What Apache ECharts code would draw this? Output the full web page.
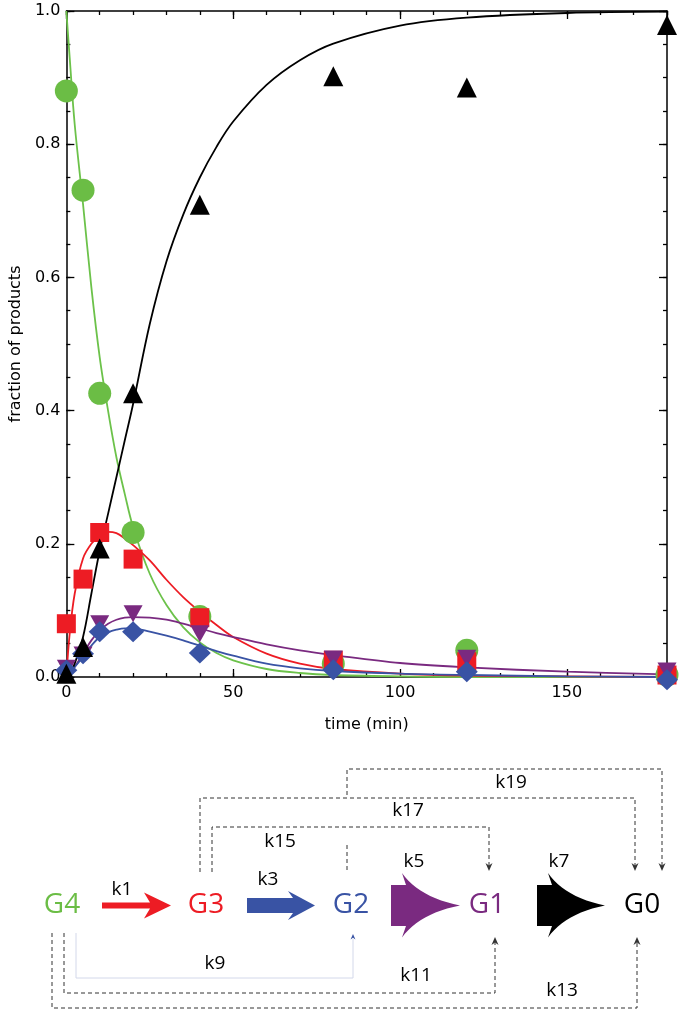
<!DOCTYPE html>
<html>
<head>
<meta charset="utf-8">
<script src="https://cdn.jsdelivr.net/npm/echarts@6/dist/echarts.min.js"></script>
<style>
  html, body { margin: 0; padding: 0; background: #fff; }
  #chart { width: 686px; height: 1014px; }
</style>
</head>
<body>
<div id="chart"></div>
<script>
// measured points
var timePts = [0, 5, 10, 20, 40, 80, 120, 180];
var g4Pts = [0.88, 0.731, 0.426, 0.217, 0.091, 0.02, 0.04, 0.003];
var g3Pts = [0.08, 0.147, 0.217, 0.177, 0.089, 0.025, 0.023, 0.003];
var g2Pts = [0.01, 0.035, 0.068, 0.068, 0.036, 0.011, 0.008, -0.004];
var g1Pts = [0.013, 0.033, 0.08, 0.095, 0.065, 0.027, 0.028, 0.009];
var g0Pts = [0.005, 0.045, 0.193, 0.426, 0.709, 0.902, 0.885, 0.979];

// fitted curves
var fitTime = [0, 1, 2.5, 5, 7.5, 10, 12.5, 15, 17.5, 20, 25, 30, 35, 40, 45, 50, 60, 70, 80, 100, 120, 150, 180];
var g4Fit = [1.0, 0.93, 0.83, 0.71, 0.585, 0.48, 0.40, 0.33, 0.275, 0.225, 0.155, 0.108, 0.075, 0.052, 0.036, 0.025, 0.012, 0.006, 0.003, 0.001, 0, 0, 0];
var g3Fit = [0, 0.065, 0.125, 0.178, 0.2, 0.212, 0.218, 0.216, 0.208, 0.198, 0.175, 0.146, 0.12, 0.098, 0.078, 0.06, 0.035, 0.02, 0.012, 0.005, 0.002, 0.001, 0];
var g2Fit = [0, 0.005, 0.015, 0.03, 0.047, 0.06, 0.067, 0.071, 0.073, 0.073, 0.068, 0.062, 0.055, 0.047, 0.039, 0.032, 0.02, 0.013, 0.009, 0.005, 0.003, 0.001, 0];
var g1Fit = [0, 0.005, 0.015, 0.035, 0.055, 0.07, 0.08, 0.086, 0.089, 0.09, 0.089, 0.086, 0.08, 0.073, 0.066, 0.06, 0.049, 0.04, 0.033, 0.021, 0.0145, 0.008, 0.004];
var g0Fit = [0, 0.005, 0.02, 0.06, 0.125, 0.19, 0.245, 0.3, 0.355, 0.41, 0.53, 0.624, 0.694, 0.75, 0.796, 0.834, 0.889, 0.926, 0.951, 0.978, 0.99, 0.997, 0.999];

var green = '#6bbd45', red = '#ed1c24', blue = '#3953a4', purple = '#7a2a80', black = '#000';
var axisFont = 'DejaVu Sans';
var schemeFont = 'Open Sans';

function pairs(xs, ys) {
	return xs.map(function(x, i) { return [x, ys[i]]; });
}

function xAx(pos, interval, len, labels, line) {
	return {
		type: 'value', position: pos, min: 0, max: 180, interval: interval,
		axisLine: { show: line, onZero: false, lineStyle: { color: '#000', width: 1.5 } },
		axisTick: { show: true, inside: true, length: len, lineStyle: { color: '#000', width: 1.3 } },
		axisLabel: {
			show: labels, margin: 8, color: '#000', fontFamily: axisFont, fontSize: 16,
			formatter: function(v) { return v % 50 === 0 ? String(v) : ''; }
		},
		splitLine: { show: false }
	};
}

function yAx(pos, interval, len, labels, line) {
	return {
		type: 'value', position: pos, min: 0, max: 1, interval: interval,
		axisLine: { show: line, onZero: false, lineStyle: { color: '#000', width: 1.5 } },
		axisTick: { show: true, inside: true, length: len, lineStyle: { color: '#000', width: 1.3 } },
		axisLabel: {
			show: labels, margin: 6, color: '#000', fontFamily: axisFont, fontSize: 16,
			formatter: function(v) {
				return Math.abs(v * 5 - Math.round(v * 5)) < 1e-6 ? v.toFixed(1) : '';
			}
		},
		splitLine: { show: false }
	};
}

function fitLine(name, ys, color) {
	return {
		name: name, type: 'line', data: pairs(fitTime, ys),
		smooth: 0.35, showSymbol: false, symbol: 'none',
		lineStyle: { color: color, width: 1.8 }, z: 2, silent: true
	};
}

function dots(name, ys, color, symbol, size, rot) {
	return {
		name: name, type: 'scatter', data: pairs(timePts, ys),
		symbol: symbol, symbolSize: size, symbolRotate: rot || 0,
		itemStyle: { color: color, opacity: 1 }, clip: false, z: 3
	};
}

// ---- reaction scheme below the plot ----
var ink = '#333';
function dash(pts) {
	return { type: 'polyline', silent: true, shape: { points: pts },
		style: { stroke: ink, lineWidth: 1, lineDash: [4, 3], fill: null } };
}
function tipDown(x, y) {
	return { type: 'polygon', silent: true,
		shape: { points: [[x, y], [x - 3.5, y - 8], [x, y - 5.5], [x + 3.5, y - 8]] }, style: { fill: ink } };
}
function tipUp(x, y, c, s) {
	s = s || 1;
	return { type: 'polygon', silent: true,
		shape: { points: [[x, y], [x - 3.5 * s, y + 8 * s], [x, y + 5.5 * s], [x + 3.5 * s, y + 8 * s]] }, style: { fill: c || ink } };
}
function txt(s, x, y, c, size) {
	return { type: 'text', silent: true,
		style: { text: s, x: x, y: y, fill: c, fontFamily: schemeFont, fontSize: size, align: 'center', verticalAlign: 'middle' } };
}
function fatArrow(x0, xn, xc, xt, yt, yb, yht, yhb, color) {
	var ym = (yt + yb) / 2;
	var pts = [[x0, yt], [xn, yt], [xc, yht]];
	var c1 = [xc + (xt - xc) * 0.3, ym - (ym - yht) * 0.25];
	var c2 = [xc + (xt - xc) * 0.3, ym + (yhb - ym) * 0.25];
	var k, t;
	for (k = 1; k <= 12; k++) {
		t = k / 12;
		pts.push([(1 - t) * (1 - t) * xc + 2 * t * (1 - t) * c1[0] + t * t * xt,
			(1 - t) * (1 - t) * yht + 2 * t * (1 - t) * c1[1] + t * t * ym]);
	}
	for (k = 1; k <= 12; k++) {
		t = k / 12;
		pts.push([(1 - t) * (1 - t) * xt + 2 * t * (1 - t) * c2[0] + t * t * xc,
			(1 - t) * (1 - t) * ym + 2 * t * (1 - t) * c2[1] + t * t * yhb]);
	}
	pts.push([xn, yb], [x0, yb]);
	return { type: 'polygon', silent: true, shape: { points: pts }, style: { fill: color } };
}

var scheme = [
	dash([[347, 795], [347, 769], [662, 769], [662, 866]]), tipDown(662, 871),
	dash([[200, 872], [200, 798], [635, 798], [635, 866]]), tipDown(635, 871),
	dash([[212, 872], [212, 827], [489, 827], [489, 866]]), tipDown(489, 871),
	dash([[347, 845], [347, 872]]),
	dash([[64, 933], [64, 993], [495, 993], [495, 942]]), tipUp(495, 937),
	dash([[52, 933], [52, 1008], [637, 1008], [637, 942]]), tipUp(637, 937),
	{ type: 'polyline', silent: true, shape: { points: [[76, 933], [76, 978], [353, 978], [353, 939]] },
		style: { stroke: '#d3d8ea', lineWidth: 1, fill: null } },
	tipUp(353, 934, blue, 0.7),
	{ type: 'polygon', silent: true, style: { fill: red },
		shape: { points: [[102, 902.5], [150, 902.5], [144, 892.5], [171, 905.5], [144, 918.5], [150, 908.5], [102, 908.5]] } },
	{ type: 'polygon', silent: true, style: { fill: blue },
		shape: { points: [[247, 898], [293, 898], [288, 891], [315, 905.5], [288, 920], [293, 913], [247, 913]] } },
	fatArrow(391, 406, 402, 460, 885, 926, 873, 937.5, purple),
	fatArrow(537, 552, 548, 605, 885, 926, 873, 937.5, black),
	txt('G4', 62, 905, green, 28),
	txt('G3', 206, 905, red, 28),
	txt('G2', 351, 905, blue, 28),
	txt('G1', 487, 905, purple, 28),
	txt('G0', 642, 905, black, 28),
	txt('k1', 122, 890, black, 19),
	txt('k3', 268, 880, black, 19),
	txt('k5', 414, 862, black, 19),
	txt('k7', 559, 862, black, 19),
	txt('k9', 215, 964, black, 19),
	txt('k11', 416, 976, black, 19),
	txt('k13', 562, 991, black, 19),
	txt('k15', 280, 842, black, 19),
	txt('k17', 408, 811, black, 19),
	txt('k19', 511, 783, black, 19)
];

var myChart = echarts.init(document.getElementById('chart'));
var option = {
	animation: false,
	backgroundColor: '#fff',
	grid: { left: 63, right: 19, top: 11, bottom: 337, containLabel: false },
	xAxis: [
		xAx('bottom', 10, 4, true, true),
		xAx('bottom', 50, 8, false, false),
		xAx('top', 10, 4, false, true),
		xAx('top', 50, 8, false, false)
	],
	yAxis: [
		yAx('left', 0.05, 4, true, true),
		yAx('left', 0.2, 8, false, false),
		yAx('right', 0.05, 4, false, true),
		yAx('right', 0.2, 8, false, false)
	],
	series: [
		fitLine('G4 fit', g4Fit, '#6cc24a'),
		fitLine('G3 fit', g3Fit, red),
		fitLine('G1 fit', g1Fit, purple),
		fitLine('G2 fit', g2Fit, blue),
		fitLine('G0 fit', g0Fit, black),
		dots('G4', g4Pts, green, 'circle', 23),
		dots('G3', g3Pts, red, 'rect', 19),
		dots('G1', g1Pts, purple, 'triangle', [19, 17], 180),
		dots('G2', g2Pts, blue, 'diamond', [22, 21]),
		dots('G0', g0Pts, black, 'triangle', [20, 20])
	],
	graphic: scheme
};
// axis names go on the labelled axes
option.xAxis[0].name = 'time (min)';
option.xAxis[0].nameLocation = 'middle';
option.xAxis[0].nameGap = 40;
option.xAxis[0].nameTextStyle = { color: '#000', fontFamily: axisFont, fontSize: 16 };
option.yAxis[0].name = 'fraction of products';
option.yAxis[0].nameLocation = 'middle';
option.yAxis[0].nameGap = 42;
option.yAxis[0].nameTextStyle = { color: '#000', fontFamily: axisFont, fontSize: 16 };

myChart.setOption(option, true);
</script>
</body>
</html>
